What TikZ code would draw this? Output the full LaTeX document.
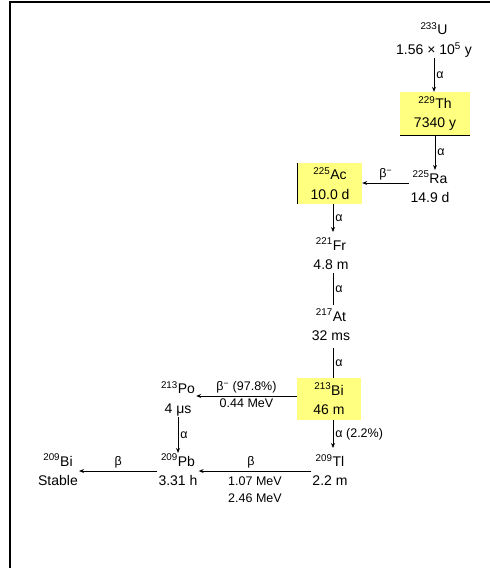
\documentclass[tikz,border=0pt]{standalone}
\usepackage{fontspec}
\setmainfont{Liberation Sans}
\usetikzlibrary{arrows.meta}
\definecolor{boxyellow}{RGB}{255,255,128}
\tikzset{
  nuc/.style={align=center, inner sep=1pt, font={\fontsize{14}{19.5}\selectfont}},
  hibox/.style={nuc, fill=boxyellow, minimum width=64pt, minimum height=42pt},
  decay/.style={-{Stealth[length=5pt,width=4pt]}, line width=0.9pt},
  plain/.style={line width=0.9pt},
  lab/.style={font={\fontsize{12.5}{14}\selectfont}, inner sep=2pt},
  frame/.style={line width=1.6pt}
}
\begin{document}
\begin{tikzpicture}[x=1pt,y=-1pt]
\useasboundingbox (0,0) rectangle (490,568);
\draw[frame] (10,568) -- (10,2) -- (490,2);

% nuclides
\node[nuc] (U) at (434,40) {\textsuperscript{233}U\\1.56 × 10\textsuperscript{5} y};
\node[hibox, minimum width=70pt, minimum height=43pt] (Th) at (435,113.5) {\textsuperscript{229}Th\\7340 y};
\draw[line width=1.3pt] (Th.south west) -- (Th.south east);
\node[nuc] (Ra) at (430,187) {\textsuperscript{225}Ra\\14.9 d};
\node[hibox, minimum height=41pt] (Ac) at (330,183.5) {\textsuperscript{225}Ac\\10.0 d};
\draw[line width=1.3pt] (Ac.north west) -- (Ac.south west);
\node[nuc] (Fr) at (331,254) {\textsuperscript{221}Fr\\4.8 m};
\node[nuc] (At) at (331,325) {\textsuperscript{217}At\\32 ms};
\node[hibox] (Bi) at (329,399) {\textsuperscript{213}Bi\\46 m};
\node[nuc] (Po) at (178,399) {\textsuperscript{213}Po\\4 μs};
\node[nuc] (Tl) at (330,470) {\textsuperscript{209}Tl\\2.2 m};
\node[nuc] (Pb) at (178,470) {\textsuperscript{209}Pb\\3.31 h};
\node[nuc] (Bis) at (58,470) {\textsuperscript{209}Bi\\Stable};

% decays
\draw[decay] (U) -- node[lab, right] {α} (U|-Th.north);
\draw[decay] (Th) -- node[lab, right] {α} (Th.south|-Ra.north);
\draw[decay] (Ra.west|-0,183) -- node[lab, above] {β\textsuperscript{−}} (Ac.east|-0,183);
\draw[decay] (Ac.south-|333,0) -- node[lab, right] {α} (333,232);
\draw[plain] (333,273) -- node[lab, right] {α} (333,305);
\draw[plain] (333,348) -- node[lab, right] {α} (Bi.north-|333,0);
\draw[decay] (Bi.west|-0,396) -- node[lab, above] {β\textsuperscript{−} (97.8\%)} node[lab, below] {0.44 MeV} (Po.east|-0,396);
\draw[decay] (Bi.south-|333,0) -- node[lab, right] {α (2.2\%)} (333,448);
\draw[decay] (Po) -- node[lab, right] {α} (Pb);
\draw[decay] (Tl.west|-0,471) -- node[lab, above, xshift=-4pt] {β} node[lab, below, yshift=-3pt, align=center, font={\fontsize{12.5}{17}\selectfont}] {1.07 MeV\\2.46 MeV} (Pb.east|-0,471);
\draw[decay] (Pb.west|-0,471) -- node[lab, above] {β} (Bis.east|-0,471);
\end{tikzpicture}
\end{document}
